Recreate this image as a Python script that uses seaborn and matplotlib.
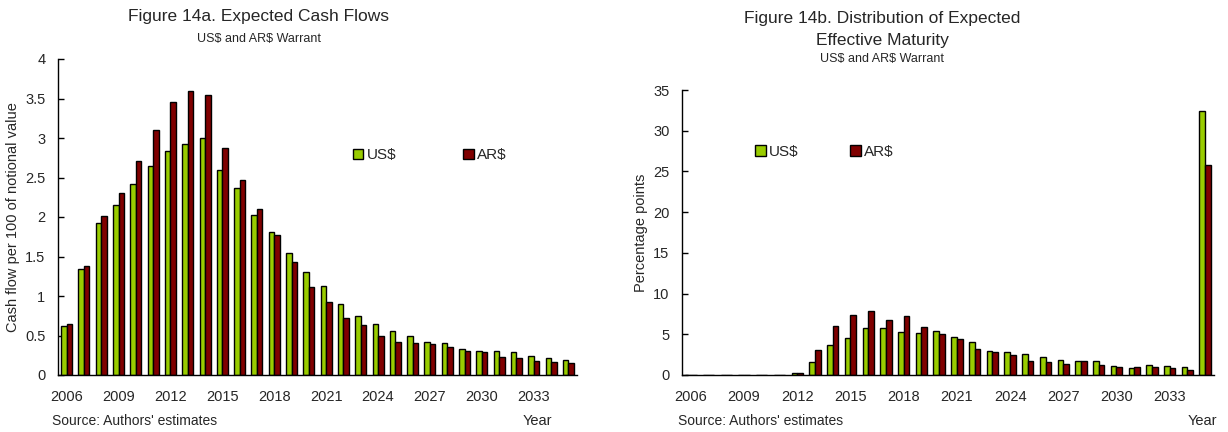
import seaborn as sns
import numpy as np
import matplotlib.pyplot as plt
import pandas as pd
from matplotlib.ticker import FuncFormatter

#%% data
years = list(range(2006, 2036))
series = ['US$', 'AR$']
colors = {'US$': '#99CC00', 'AR$': '#800000'}

cash_us = [0.62, 1.34, 1.92, 2.15, 2.42, 2.65, 2.83, 2.93, 3.00, 2.59,
           2.37, 2.02, 1.81, 1.55, 1.31, 1.13, 0.90, 0.75, 0.64, 0.56,
           0.50, 0.42, 0.41, 0.33, 0.31, 0.31, 0.29, 0.24, 0.21, 0.19]
cash_ar = [0.64, 1.38, 2.01, 2.30, 2.71, 3.10, 3.45, 3.60, 3.55, 2.87,
           2.47, 2.10, 1.77, 1.43, 1.11, 0.92, 0.72, 0.63, 0.49, 0.42,
           0.41, 0.39, 0.35, 0.30, 0.29, 0.23, 0.22, 0.18, 0.16, 0.15]

mat_us = [0, 0, 0, 0, 0, 0, 0.2, 1.6, 3.65, 4.6,
          5.8, 5.75, 5.3, 5.1, 5.4, 4.7, 4.0, 3.0, 2.87, 2.58,
          2.25, 1.88, 1.72, 1.72, 1.11, 0.9, 1.23, 1.06, 0.94, 32.4]
mat_ar = [0, 0, 0, 0, 0, 0, 0.2, 3.1, 6.05, 7.4,
          7.8, 6.7, 7.2, 5.9, 5.0, 4.45, 3.15, 2.8, 2.46, 1.72,
          1.56, 1.31, 1.72, 1.19, 1.02, 1.02, 1.02, 0.86, 0.65, 25.8]

label_years = list(range(2006, 2034, 3))

#%% long-form tables
def long_df(us, ar):
    return pd.DataFrame({'Year': years * 2,
                         'Series': ['US$'] * len(years) + ['AR$'] * len(years),
                         'value': us + ar})

cash = long_df(cash_us, cash_ar)
mat = long_df(mat_us, mat_ar)

#%%
sns.set_style('white')
plt.rcParams['font.family'] = ['Liberation Sans', 'DejaVu Sans']

fig = plt.figure(figsize=(12.28, 4.32), dpi=100)
ax1 = fig.add_axes([58/1228, 57/432, 519/1228, 316/432])
ax2 = fig.add_axes([682/1228, 57/432, 532/1228, 285/432])


def draw(ax, df, ymax, ystep, ylabel, every_boundary, leg_xy, colsp):
    sns.barplot(data=df, x='Year', y='value', hue='Series', hue_order=series,
                palette=colors, edgecolor='black', linewidth=1, width=0.64,
                saturation=1, ax=ax)
    ax.set_xlim(-0.5, len(years) - 0.5)
    ax.set_ylim(0, ymax)
    ax.set_yticks(np.arange(0, ymax + ystep / 2, ystep))
    ax.yaxis.set_major_formatter(FuncFormatter(lambda v, p: '%g' % v))
    pos = [years.index(y) for y in label_years]
    ax.set_xticks(pos, [str(y) for y in label_years])
    step = 1 if every_boundary else 3
    ax.set_xticks(np.arange(-0.5, len(years), step), minor=True)
    ax.tick_params(axis='x', which='major', length=0, pad=11, labelsize=10.5)
    ax.tick_params(axis='x', which='minor', length=4, width=1,
                   direction='out' if every_boundary else 'in', color='black')
    ax.tick_params(axis='y', length=4, width=1, direction='in', pad=9,
                   labelsize=10.5, color='black', left=True)
    for s in ['top', 'right']:
        ax.spines[s].set_visible(False)
    for s in ['left', 'bottom']:
        ax.spines[s].set_color('black')
        ax.spines[s].set_linewidth(1)
    ax.set_xlabel('')
    ax.set_ylabel(ylabel, fontsize=10.5, labelpad=4)
    h, l = ax.get_legend_handles_labels()
    ax.legend(h, l, ncol=2, frameon=False, loc='center left',
              bbox_to_anchor=leg_xy, borderpad=0, borderaxespad=0,
              handlelength=0.7, handleheight=0.7, handletextpad=0.2,
              columnspacing=colsp, fontsize=11)


draw(ax1, cash, 4, 0.5, 'Cash flow per 100 of notional value', True,
     (0.568, 0.695), 4.4)
draw(ax2, mat, 35, 5, 'Percentage points', False, (0.137, 0.782), 3.4)

#%% titles and notes
sub = 'US\\$ and AR\\$ Warrant'
fig.text(259/1228, 1 - 17/432, 'Figure 14a. Expected Cash Flows',
         ha='center', va='center', fontsize=12.5)
fig.text(259/1228, 1 - 39/432, sub, ha='center', va='center', fontsize=9)
fig.text(882/1228, 1 - 19/432, 'Figure 14b. Distribution of Expected',
         ha='center', va='center', fontsize=12.5)
fig.text(882/1228, 1 - 40/432, 'Effective Maturity',
         ha='center', va='center', fontsize=12.5)
fig.text(882/1228, 1 - 59/432, sub, ha='center', va='center', fontsize=9)

for x in [52, 678]:
    fig.text(x/1228, 1 - 421/432, "Source: Authors' estimates",
             ha='left', va='center', fontsize=10)
for x in [537, 1202]:
    fig.text(x/1228, 1 - 421/432, 'Year', ha='center', va='center',
             fontsize=10.5)

plt.savefig('out.png', dpi=100)
